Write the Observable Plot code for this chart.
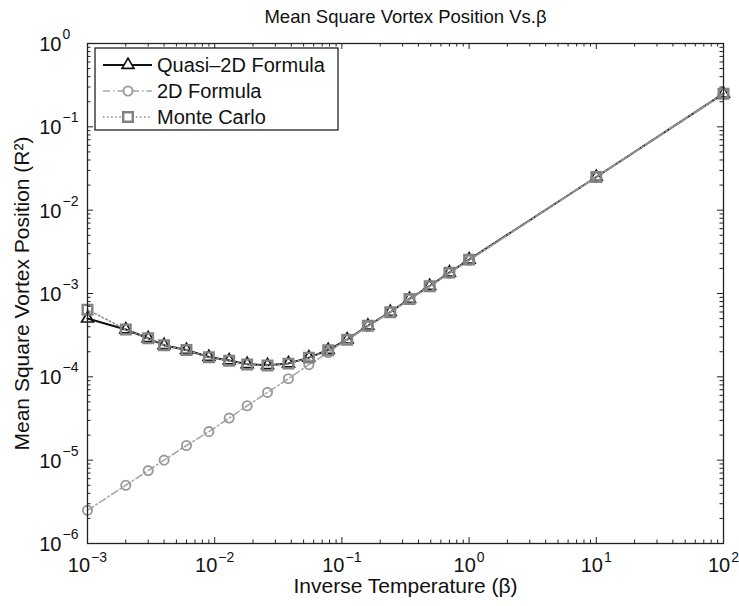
<!DOCTYPE html>
<html><head><meta charset="utf-8">
<script src="https://cdn.jsdelivr.net/npm/d3@7"></script>
<script src="https://cdn.jsdelivr.net/npm/@observablehq/plot@0.6"></script>
<style>
body{margin:0;background:#fff}
svg{font-family:"Liberation Sans",Arial,Helvetica,sans-serif}
</style>
</head><body><div id="chart"></div>
<script>
// ---- data ----
const beta = [0.001,0.002,0.003,0.004,0.006,0.009,0.013,0.018,0.026,0.038,0.055,0.078,0.11,0.16,0.24,0.34,0.49,0.7,1,10,100];
const quasi2D = [5.0e-4,3.7e-4,2.9e-4,2.4e-4,2.1e-4,1.73e-4,1.57e-4,1.42e-4,1.38e-4,1.45e-4,1.7e-4,2.1e-4,2.8e-4,4.1e-4,6.0e-4,8.6e-4,1.23e-3,1.78e-3,2.55e-3,2.5e-2,0.25];
const formula2D = [2.5e-6,5.0e-6,7.5e-6,1.0e-5,1.5e-5,2.2e-5,3.2e-5,4.5e-5,6.5e-5,9.5e-5,1.4e-4,1.95e-4,2.8e-4,4.0e-4,6.0e-4,8.5e-4,1.22e-3,1.75e-3,2.5e-3,2.5e-2,0.25];
const monteCarlo = [6.4e-4,3.7e-4,2.9e-4,2.4e-4,2.1e-4,1.72e-4,1.56e-4,1.41e-4,1.37e-4,1.44e-4,1.7e-4,2.08e-4,2.78e-4,4.1e-4,5.95e-4,8.6e-4,1.22e-3,1.78e-3,2.55e-3,2.5e-2,0.25];
const seriesNames = ["Quasi\u20132D Formula","2D Formula","Monte Carlo"];
const xTicks = [1e-3,1e-2,1e-1,1,10,100];
const xExponents = ["\u22123","\u22122","\u22121","0","1","2"];
const yTicks = [1e-6,1e-5,1e-4,1e-3,1e-2,1e-1,1];
const yExponents = ["\u22126","\u22125","\u22124","\u22123","\u22122","\u22121","0"];
const title = "Mean Square Vortex Position Vs.\u03b2";
const xLabel = "Inverse Temperature (\u03b2)";
const yLabel = "Mean Square Vortex Position (R\u00b2)";

// ---- layout ----
const W = 739, H = 606;
const mL = 87, mR = 16, mT = 43, mB = 63;
const fw = W - mL - mR, fh = H - mT - mB;

const rows = beta.map((b, i) => ({beta: b, q: quasi2D[i], f: formula2D[i], m: monteCarlo[i]}));
const xDomain = [1e-3, 100], yDomain = [1e-6, 1];
const xMinor = d3.scaleLog().domain(xDomain).ticks().filter(t => !xTicks.includes(t));
const yMinor = d3.scaleLog().domain(yDomain).ticks().filter(t => !yTicks.includes(t));

const axC = "#222";
const MAJ = 6, MIN = 3.5;
const xNeg = xTicks.map((t, i) => ({t, e: xExponents[i]})).filter(d => d.e.startsWith("\u2212"));
const xPos = xTicks.map((t, i) => ({t, e: xExponents[i]})).filter(d => !d.e.startsWith("\u2212"));
const yT = yTicks.map((t, i) => ({t, e: yExponents[i]}));

const styles = {
  q: {stroke: "#111", strokeWidth: 2, dash: null, symbol: "triangle", r: 4.4, mstroke: "#111", mw: 1.7},
  f: {stroke: "#a6a6a6", strokeWidth: 1.6, dash: "7,3,1.5,3", symbol: "circle", r: 4.6, mstroke: "#9a9a9a", mw: 1.9},
  m: {stroke: "#8c8c8c", strokeWidth: 1.6, dash: "1.5,2.6", symbol: "square", r: 5.4, mstroke: "#828282", mw: 2.4}
};

const marks = [];
for (const k of ["q","f","m"]) {
  const s = styles[k];
  marks.push(Plot.line(rows, {x: "beta", y: k, stroke: s.stroke, strokeWidth: s.strokeWidth, strokeDasharray: s.dash}));
  marks.push(Plot.dot(rows, {x: "beta", y: k, symbol: s.symbol, r: s.r, stroke: s.mstroke, strokeWidth: s.mw, fill: "none"}));
}

const T = {fill: "#111", lineAnchor: "middle"};

const chart = Plot.plot({
  width: W, height: H,
  marginLeft: mL, marginRight: mR, marginTop: mT, marginBottom: mB,
  style: {fontFamily: '"Liberation Sans",Arial,sans-serif', background: "#fff", color: "#111"},
  x: {type: "log", domain: xDomain, axis: null},
  y: {type: "log", domain: yDomain, axis: null},
  marks: [
    ...marks,
    // ticks (inward, on all four sides)
    Plot.tickX(xMinor, {x: d => d, insetTop: fh - MIN, stroke: axC}),
    Plot.tickX(xMinor, {x: d => d, insetBottom: fh - MIN, stroke: axC}),
    Plot.tickX(xTicks, {x: d => d, insetTop: fh - MAJ, stroke: axC}),
    Plot.tickX(xTicks, {x: d => d, insetBottom: fh - MAJ, stroke: axC}),
    Plot.tickY(yMinor, {y: d => d, insetRight: fw - MIN, stroke: axC}),
    Plot.tickY(yMinor, {y: d => d, insetLeft: fw - MIN, stroke: axC}),
    Plot.tickY(yTicks, {y: d => d, insetRight: fw - MAJ, stroke: axC}),
    Plot.tickY(yTicks, {y: d => d, insetLeft: fw - MAJ, stroke: axC}),
    Plot.frame({stroke: axC, strokeWidth: 1.3}),
    // x tick labels
    Plot.text(xNeg, {...T, x: "t", frameAnchor: "bottom", text: () => "10", textAnchor: "end", dx: 2.6, dy: 22, fontSize: 20}),
    Plot.text(xNeg, {...T, x: "t", frameAnchor: "bottom", text: "e", textAnchor: "start", dx: 3.6, dy: 14.5, fontSize: 14}),
    Plot.text(xPos, {...T, x: "t", frameAnchor: "bottom", text: () => "10", textAnchor: "end", dx: 6.7, dy: 22, fontSize: 20}),
    Plot.text(xPos, {...T, x: "t", frameAnchor: "bottom", text: "e", textAnchor: "start", dx: 7.7, dy: 14.5, fontSize: 14}),
    // y tick labels
    Plot.text(yT, {...T, y: "t", frameAnchor: "left", text: () => "10", textAnchor: "end", dx: -26, dy: 1, fontSize: 20}),
    Plot.text(yT, {...T, y: "t", frameAnchor: "left", text: "e", textAnchor: "start", dx: -25, dy: -9, fontSize: 14}),
    // titles
    Plot.text([title], {...T, frameAnchor: "top", textAnchor: "middle", dy: -26, fontSize: 18.5}),
    Plot.text([xLabel], {...T, frameAnchor: "bottom", textAnchor: "middle", dy: 43, fontSize: 21}),
    Plot.text([yLabel], {...T, frameAnchor: "left", textAnchor: "middle", dx: -65, rotate: -90, fontSize: 21})
  ]
});

// ---- legend ----
const svg = d3.select(chart);
const lg = svg.append("g").attr("transform", "translate(95,48)");
lg.append("rect").attr("width", 243).attr("height", 82).attr("fill", "#fff").attr("stroke", axC).attr("stroke-width", 1.3);
const symMap = {triangle: d3.symbolTriangle, circle: d3.symbolCircle, square: d3.symbolSquare};
["q","f","m"].forEach((k, i) => {
  const s = styles[k];
  const cy = 17 + i * 26;
  const ln = lg.append("line").attr("x1", 8).attr("x2", 57).attr("y1", cy).attr("y2", cy)
    .attr("stroke", s.stroke).attr("stroke-width", s.strokeWidth);
  if (s.dash) ln.attr("stroke-dasharray", s.dash);
  lg.append("path").attr("d", d3.symbol(symMap[s.symbol], Math.PI * s.r * s.r)())
    .attr("transform", `translate(33,${cy})`).attr("fill", "#fff").attr("stroke", s.mstroke).attr("stroke-width", s.mw);
  lg.append("text").attr("x", 62).attr("y", cy).attr("dy", "0.35em").attr("text-anchor", "start")
    .attr("font-size", 20).attr("fill", "#111").text(seriesNames[i]);
});

document.getElementById("chart").appendChild(chart);
</script>
</body></html>
